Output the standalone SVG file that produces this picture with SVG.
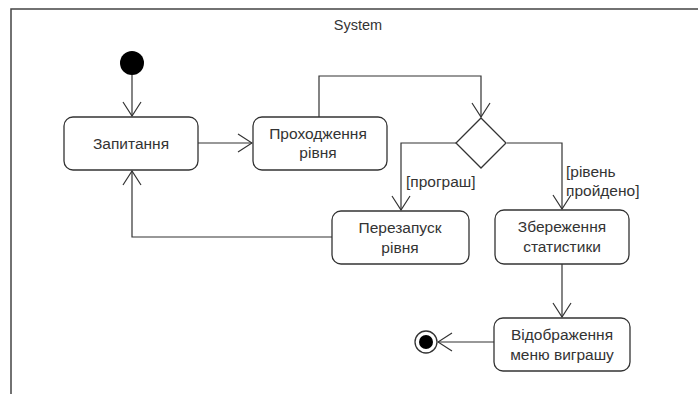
<svg xmlns="http://www.w3.org/2000/svg" width="698" height="394" viewBox="0 0 698 394">
<defs>
<marker id="open" viewBox="0 0 16 20" refX="15" refY="10" markerWidth="16" markerHeight="20" markerUnits="userSpaceOnUse" orient="auto">
<path d="M1,1 L15,10 L1,19" fill="none" stroke="#333" stroke-width="1.2"/>
</marker>
<style>
.frame{fill:#fff;stroke:#444;stroke-width:1.5}
.node{fill:#fff;stroke:#333;stroke-width:1.3}
.lbl{font-family:"Liberation Sans",Arial,sans-serif;font-size:15.5px;fill:#333;text-anchor:middle}
.glbl{font-family:"Liberation Sans",Arial,sans-serif;font-size:15.5px;fill:#333}
.edge{fill:none;stroke:#333;stroke-width:1.2;marker-end:url(#open)}
</style>
</defs>
<rect width="698" height="394" fill="#fff"/>
<g id="frame">
<rect class="frame" x="11" y="9" width="700" height="400"/>
<text class="lbl" x="358" y="30" style="font-size:14.5px">System</text>
</g>
<g id="connectors">
<path class="edge" d="M132,75 V116"/>
<path class="edge" d="M198,143 H252"/>
<path class="edge" d="M319,117 V76 H481 V117"/>
<path class="edge" d="M456,143 H401 V210"/>
<path class="edge" d="M507,143 H562 V209"/>
<path class="edge" d="M332,237 H132 V171"/>
<path class="edge" d="M562,264 V317"/>
<path class="edge" d="M494,342 H438"/>
<text class="glbl" x="406" y="187">[програш]</text>
<text class="glbl" x="566" y="177">[рівень</text>
<text class="glbl" x="566" y="196">пройдено]</text>
</g>
<g id="start"><circle cx="132" cy="63" r="12" fill="#000"/></g>
<g id="zapytannia">
<rect class="node" x="64" y="117" width="134" height="53" rx="9"/>
<text class="lbl" x="131" y="149">Запитання</text>
</g>
<g id="prokhodzhennia">
<rect class="node" x="253" y="117" width="134" height="53" rx="9"/>
<text class="lbl" x="318" y="139">Проходження</text>
<text class="lbl" x="318" y="158">рівня</text>
</g>
<g id="decision">
<path class="node" d="M481,118 L506,143 L481,168 L456,143 Z"/>
</g>
<g id="perezapusk">
<rect class="node" x="332" y="211" width="137" height="53" rx="9"/>
<text class="lbl" x="400" y="233">Перезапуск</text>
<text class="lbl" x="400" y="253">рівня</text>
</g>
<g id="zberezhennia">
<rect class="node" x="495" y="210" width="134" height="54" rx="9"/>
<text class="lbl" x="562" y="232">Збереження</text>
<text class="lbl" x="562" y="252">статистики</text>
</g>
<g id="vidobrazhennia">
<rect class="node" x="494" y="318" width="136" height="53" rx="9"/>
<text class="lbl" x="562" y="340">Відображення</text>
<text class="lbl" x="562" y="360">меню виграшу</text>
</g>
<g id="end">
<circle cx="426" cy="342" r="11" fill="#fff" stroke="#333" stroke-width="1.3"/>
<circle cx="426" cy="342" r="7" fill="#000"/>
</g>
</svg>
